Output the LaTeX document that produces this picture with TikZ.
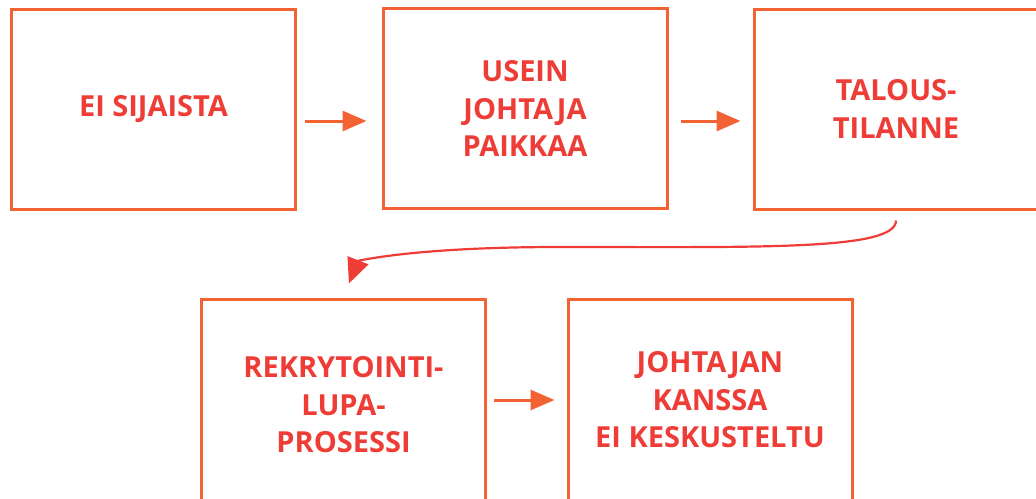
\documentclass[tikz,border=0pt]{standalone}
\usepackage{fontspec}
\setmainfont{Open Sans}
\usetikzlibrary{arrows.meta}

\definecolor{boxorange}{HTML}{F26232}
\definecolor{textred}{HTML}{EE3D37}

\begin{document}
\begin{tikzpicture}[x=1pt,y=-1pt,
  box/.style={draw=boxorange, line width=3pt, minimum width=284pt, minimum height=200pt,
    align=center, text=textred, inner sep=0pt,
    font=\fontsize{29}{37.5}\selectfont\bfseries},
  flow/.style={-{Triangle[length=24pt,width=20pt]}, draw=boxorange, line width=3pt},
  back/.style={-{Triangle[length=25pt,width=22pt]}, draw=textred, line width=2.2pt}]

\useasboundingbox (0,0) rectangle (1036,498);
\clip (0,0) rectangle (1036,498);

% top row
\node[box] (b1) at (153.5,109.5) {EI SIJAISTA};
\node[box] (b2) at (525,108.5)   {USEIN\\JOHTAJA\\PAIKKAA};
\node[box] (b3) at (896,109)     {TALOUS-\\TILANNE};

% bottom row
\node[box, minimum height=212pt] (b4) at (343.5,405) {REKRYTOINTI-\\LUPA-\\PROSESSI};
\node[box, minimum height=202pt] (b5) at (710,400)   {JOHTAJAN\\KANSSA\\EI KESKUSTELTU};

\draw[flow, shorten <=8pt, shorten >=15pt] ([yshift=-11.5pt]b1.east) -- ([yshift=-12.5pt]b2.west);
\draw[flow, shorten <=12pt, shorten >=12pt] ([yshift=-12.5pt]b2.east) -- ([yshift=-12pt]b3.west);
\draw[flow, shorten <=7pt, shorten >=12pt] ([yshift=5pt]b4.east) -- (b5.west);

% back to second row
\coordinate (mid) at (560,247);
\draw[back, shorten <=10pt, shorten >=15pt] (b3.south)
  .. controls +(0,40) and +(200,0) .. (mid)
  .. controls +(-150,0) and +(14,-36) .. (b4.north);

\end{tikzpicture}
\end{document}
